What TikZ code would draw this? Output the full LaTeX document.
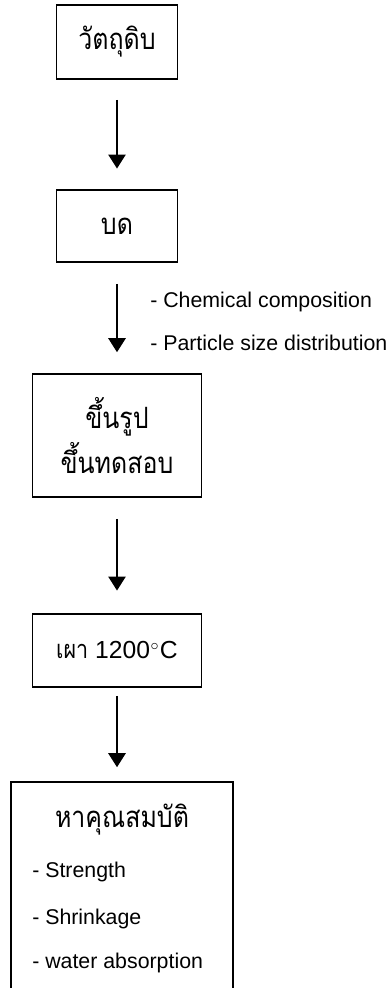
\documentclass[tikz,border=0pt]{standalone}
\usepackage{fontspec}
\setmainfont{Liberation Sans}
\newfontfamily\thaifont[Script=Thai, FakeStretch=0.85]{Loma}
\usetikzlibrary{arrows.meta}

\begin{document}
\begin{tikzpicture}[x=0.75pt, y=-0.75pt, >={Triangle[length=10.5pt,width=13pt]},
  procbox/.style={draw, line width=1.2pt, inner sep=0pt, align=center,
    font=\fontsize{18.5}{22}\selectfont},
  thai/.style={font=\thaifont\fontsize{22}{34}\selectfont},
  flow/.style={->, line width=1.2pt, shorten <=15pt, shorten >=15.5pt},
  note/.style={anchor=west, inner sep=0pt, font=\fontsize{16}{19}\selectfont}]
  \clip (0,0) rectangle (386,988);
  % process steps
  \node[procbox, thai, minimum width=90.75pt, minimum height=55.5pt] (raw) at (117,42) {วัตถุดิบ};
  \node[procbox, thai, minimum width=90.75pt, minimum height=54pt] (mill) at (117,226) {บด};
  \node[procbox, thai, minimum width=126.75pt, minimum height=92.25pt] (form) at (117,435.5) {ขึ้นรูป\\ขึ้นทดสอบ};
  \node[procbox, minimum width=126.75pt, minimum height=54.75pt] (fire) at (117,650.5)
    {{\thaifont\fontsize{19}{22}\selectfont เผา} 1200\kern0.5pt$^{\circ}$\kern0.5pt C};
  \node[procbox, minimum width=166.5pt, minimum height=172.5pt] (props) at (122,897) {};
  % text inside the last box
  \node[thai, inner sep=0pt] (propt) at (122,820) {หาคุณสมบัติ};
  \node[note] (str) at (32,872) {- Strength};
  \node[note] (shr) at (32,919) {- Shrinkage};
  \node[note] (wat) at (32,963) {- water absorption};
  % analyses after milling
  \node[note] (chem) at (150,302) {- Chemical composition};
  \node[note] (psd) at (150,343) {- Particle size distribution};
  % arrows
  \draw[flow] (raw) -- (mill);
  \draw[flow, shorten <=15.75pt, shorten >=15.75pt] (mill) -- (form);
  \draw[flow, shorten <=15.75pt, shorten >=17pt] (form) -- (fire);
  \draw[flow, shorten <=6pt, shorten >=10.5pt] (fire.south) -- (fire.south |- props.north);
\end{tikzpicture}
\end{document}
